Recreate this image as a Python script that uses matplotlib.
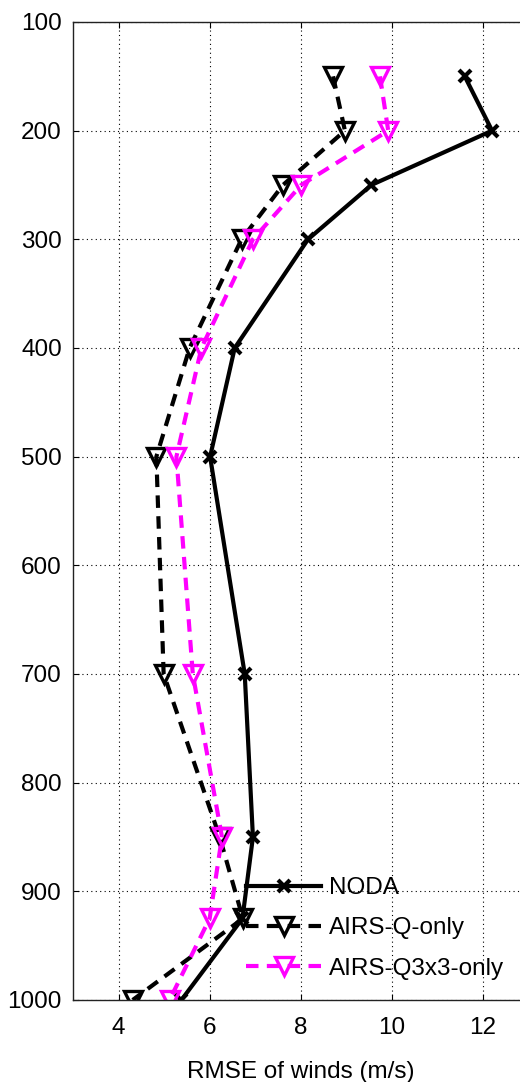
import numpy as np
import matplotlib.pyplot as plt

plt.rcParams['font.family'] = ['Liberation Sans', 'DejaVu Sans']

# pressure levels (hPa) and wind RMSE (m/s)
levels = [150, 200, 250, 300, 400, 500, 700, 850, 925, 1000]
noda = [11.6, 12.2, 9.55, 8.16, 6.55, 6.01, 6.77, 6.95, 6.72, 5.38]
airs_q = [8.71, 8.97, 7.61, 6.70, 5.56, 4.83, 4.99, 6.22, 6.73, 4.31]
airs_q3x3 = [9.74, 9.92, 8.01, 6.95, 5.82, 5.27, 5.63, 6.27, 6.00, 5.12]

W, H = 520, 1082
fig = plt.figure(figsize=(W / 100, H / 100), dpi=100)
# axes runs a little past the right edge, like the cropped original
ax = fig.add_axes([73 / W, (H - 1000) / H, (528.5 - 73) / W, (1000 - 22) / H])

ax.plot(noda, levels, '-', color='k', lw=3, marker='x', ms=9, mew=3,
        label='NODA')
ax.plot(airs_q, levels, '--', color='k', lw=3, marker='v', ms=13, mew=2.4,
        mfc='none', mec='k', dashes=(3, 2), label='AIRS-Q-only')
ax.plot(airs_q3x3, levels, '--', color='#ff00ff', lw=3, marker='v', ms=13, mew=2.4,
        mfc='none', mec='#ff00ff', dashes=(3, 2), label='AIRS-Q3x3-only')

ax.set_xlim(3, 13)
ax.set_ylim(1000, 100)
ax.set_xticks([4, 6, 8, 10, 12])
ax.set_yticks(np.arange(100, 1001, 100))
ax.grid(True, color='k', ls=(0, (1, 3)), lw=0.8)
ax.tick_params(direction='in', length=4, width=0.8, labelsize=17.5, top=True, right=True)
ax.tick_params(axis='x', pad=12)
ax.tick_params(axis='y', pad=8)
for s in ax.spines.values():
    s.set_linewidth(1.0)
    s.set_color('#222222')

ax.set_xlabel('RMSE of winds (m/s)', fontsize=17.5, labelpad=16)

leg = ax.legend(loc='upper left', bbox_to_anchor=(246 / W, (H - 877) / H),
                bbox_transform=fig.transFigure, frameon=False, fontsize=17.5,
                numpoints=1, handlelength=3.1, handletextpad=0.3,
                borderpad=0, borderaxespad=0, labelspacing=0.75)

fig.savefig('out.png', dpi=100)
